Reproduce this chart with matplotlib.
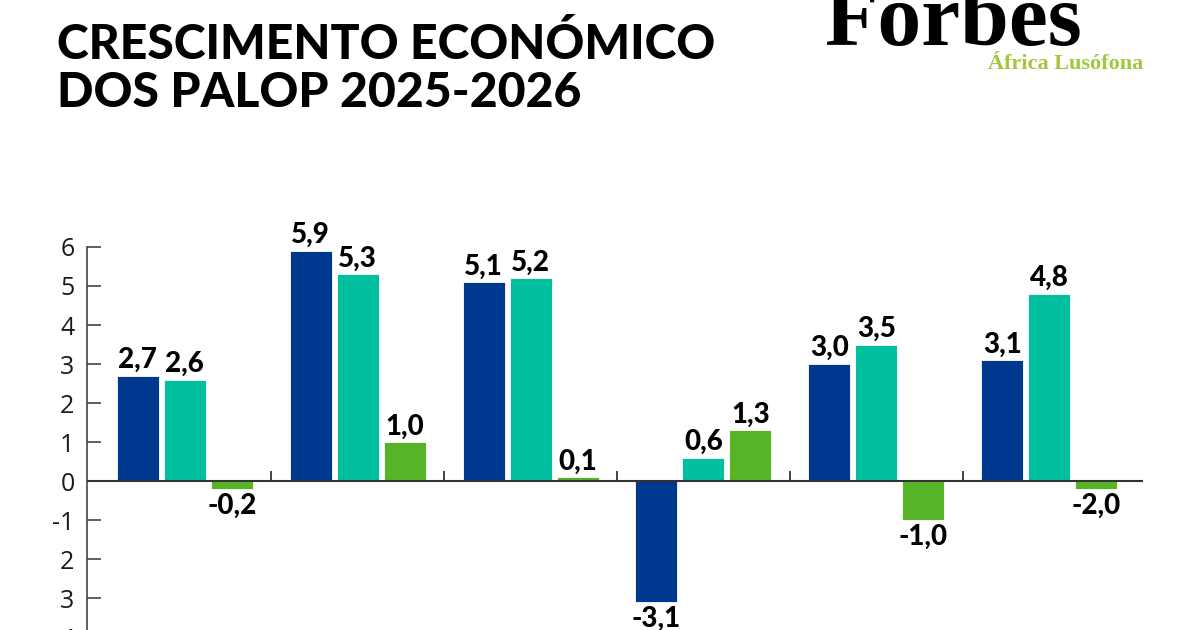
import numpy as np
import matplotlib
matplotlib.use("Agg")
import matplotlib.pyplot as plt

# Data (three series per country group)
groups = ["G1", "G2", "G3", "G4", "G5", "G6"]
serie_a = [2.7, 5.9, 5.1, -3.1, 3.0, 3.1]
serie_b = [2.6, 5.3, 5.2, 0.6, 3.5, 4.8]
serie_c = [-0.2, 1.0, 0.1, 1.3, -1.0, -0.2]
# value labels exactly as printed on the chart
labels_a = ["2,7", "5,9", "5,1", "-3,1", "3,0", "3,1"]
labels_b = ["2,6", "5,3", "5,2", "0,6", "3,5", "4,8"]
labels_c = ["-0,2", "1,0", "0,1", "1,3", "-1,0", "-2,0"]
ytick_vals = [-4, -3, -2, -1, 0, 1, 2, 3, 4, 5, 6]
ytick_labels = ["4", "3", "2", "-1", "0", "1", "2", "3", "4", "5", "6"]

colors = ["#00388f", "#00c09f", "#56b426"]

fig = plt.figure(figsize=(12, 6.3), dpi=100)
ax = fig.add_axes([0.0725, -0.03, 0.88, 0.638])

x = np.arange(len(groups))
width = 0.243
offset = 0.272

series = [serie_a, serie_b, serie_c]
labels = [labels_a, labels_b, labels_c]
for k in range(3):
    xs = x + (k - 1) * offset
    bars = ax.bar(xs, series[k], width, color=colors[k], edgecolor="white",
                  linewidth=0.6, zorder=2)
    for b, v, lab in zip(bars, series[k], labels[k]):
        cx = b.get_x() + b.get_width() / 2
        if v >= 0:
            ax.annotate(lab, (cx, v), xytext=(0, 2), textcoords="offset points",
                        ha="center", va="bottom", fontsize=20,
                        fontweight="black", family="Lato", color="black")
        else:
            ax.annotate(lab, (cx, v), xytext=(0, -3), textcoords="offset points",
                        ha="center", va="top", fontsize=20,
                        fontweight="black", family="Lato", color="black")

ax.axhline(0, color="#333333", linewidth=1.5, zorder=3)
# group separators on the zero line
ax.vlines(x[:-1] + 0.5, 0, 0.25, color="#333333", linewidth=1.3, zorder=3)

ax.set_xlim(-0.566, 5.543)
ax.set_ylim(-4.3, 6)
ax.set_xticks([])
ax.set_yticks(ytick_vals)
ax.set_yticklabels(ytick_labels, family="Open Sans", fontsize=18,
                   color="#1a1a1a")
ax.tick_params(axis="y", direction="in", length=10, width=1.2, pad=9,
               color="#444444")
for s in ["top", "right", "bottom"]:
    ax.spines[s].set_visible(False)
ax.spines["left"].set_color("#444444")
ax.spines["left"].set_linewidth(1.2)

fig.text(0.0475, 0.965, "CRESCIMENTO ECONÓMICO\nDOS PALOP 2025-2026",
         ha="left", va="top", fontsize=34.7, fontweight="black", family="Lato",
         linespacing=1.1, color="black")

fig.text(0.6875, 0.929, "Forbes", ha="left", va="baseline", fontsize=63,
         fontweight="bold", family="Liberation Serif", color="black")
fig.text(0.9525, 0.891, "África Lusófona", ha="right", va="baseline",
         fontsize=16, fontweight="bold", family="Liberation Serif",
         color="#a2c73a")

fig.savefig("out.png", dpi=100)
